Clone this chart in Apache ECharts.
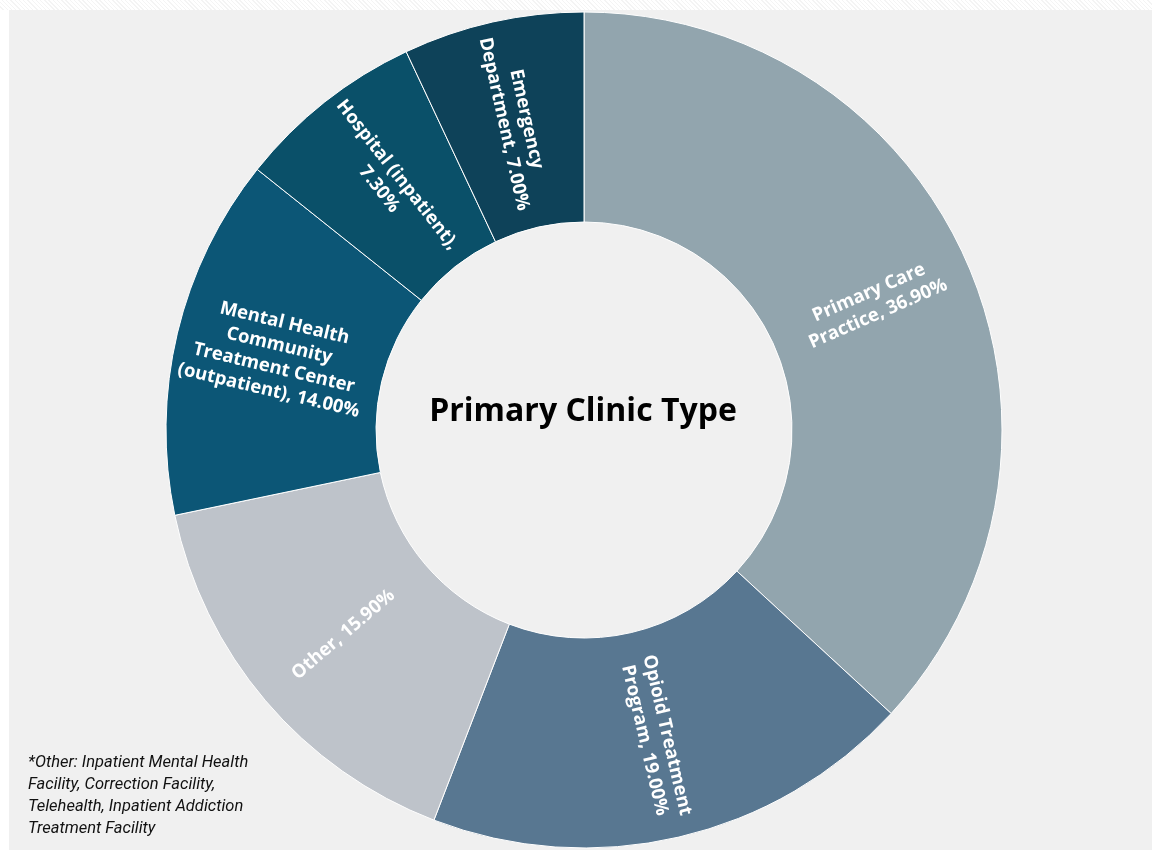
<!DOCTYPE html>
<html>
<head>
<meta charset="utf-8">
<script src="https://cdn.jsdelivr.net/npm/echarts@6/dist/echarts.min.js"></script>
<style>
  html, body { margin: 0; padding: 0; background: #ffffff; }
  #top { position: absolute; left: 0; top: 0; width: 1152px; height: 10px;
         background: repeating-linear-gradient(45deg, #ffffff 0 2px, #f4f4f4 2px 3px); }
  #chart { position: absolute; left: 9px; top: 10px; width: 1143px; height: 840px; }
</style>
</head>
<body>
<div id="top"></div>
<div id="chart"></div>
<script>
// 扇区数据（从顶部顺时针）
var categories = ['Primary Care Practice', 'Opioid Treatment Program', 'Other',
    'Mental Health Community Treatment Center (outpatient)', 'Hospital (inpatient)', 'Emergency Department'];
var values = [36.9, 19.0, 15.9, 14.0, 7.3, 7.0];
var labelTexts = ['Primary Care\nPractice, 36.90%', 'Opioid Treatment\nProgram, 19.00%', 'Other, 15.90%',
    'Mental Health\nCommunity\nTreatment Center\n(outpatient), 14.00%', 'Hospital (inpatient),\n7.30%',
    'Emergency\nDepartment, 7.00%'];
var colors = ['#92a5ae', '#587791', '#bec3ca', '#0c5676', '#0a5069', '#0e4259'];
var footnote = '*Other: Inpatient Mental Health\nFacility, Correction Facility,\nTelehealth, Inpatient Addiction\nTreatment Facility';

var myChart = echarts.init(document.getElementById('chart'));

var pieData = categories.map(function (name, i) {
    return { name: name, value: values[i], itemStyle: { color: colors[i] } };
});

var option = {
    backgroundColor: '#f0f0f0',
    animation: false,
    graphic: [
        {
            type: 'text',
            left: 19,
            top: 742,
            style: {
                text: footnote,
                font: 'italic 16.5px Roboto',
                fill: '#111111',
                lineHeight: 22
            }
        },
        {
            type: 'text',
            x: 574,
            y: 402,
            style: {
                text: 'Primary Clinic Type',
                font: 'bold 32px "Open Sans"',
                fill: '#000000',
                align: 'center',
                verticalAlign: 'middle'
            }
        }
    ],
    series: [
        {
            name: 'Primary Clinic Type',
            type: 'pie',
            center: [575, 420],
            radius: [208, 418],
            startAngle: 90,
            clockwise: true,
            itemStyle: { borderColor: '#ffffff', borderWidth: 1 },
            label: {
                show: true,
                position: 'inside',
                rotate: 'radial',
                color: '#ffffff',
                fontFamily: 'Open Sans',
                fontWeight: 'bold',
                fontSize: 18.5,
                lineHeight: 23,
                align: 'center',
                formatter: function (p) { return labelTexts[p.dataIndex]; }
            },
            labelLine: { show: false },
            emphasis: { disabled: true },
            data: pieData
        }
    ]
};

myChart.setOption(option);
</script>
</body>
</html>
